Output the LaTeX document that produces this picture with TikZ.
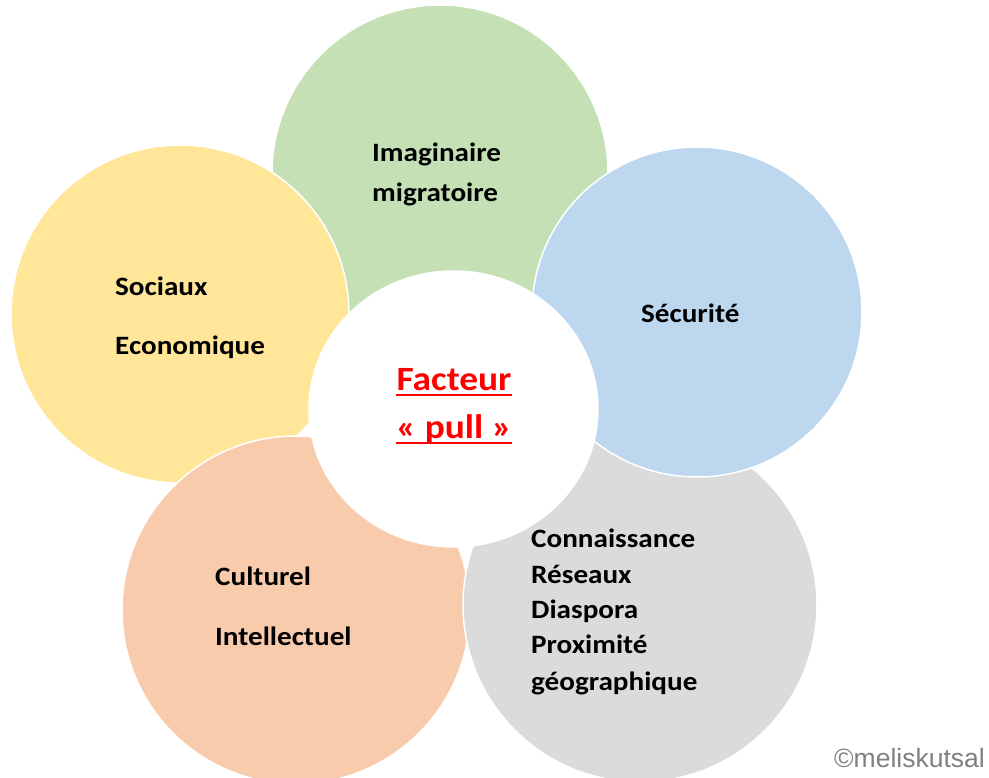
\documentclass[tikz,border=0pt]{standalone}
\usepackage{fontspec}
\setmainfont{Carlito}[FakeStretch=1.1]
\newfontfamily\credfont{Liberation Sans}
\definecolor{cgreen}{HTML}{C5E0B4}
\definecolor{cblue}{HTML}{BDD7EE}
\definecolor{cyellow}{HTML}{FFE699}
\definecolor{cpeach}{HTML}{F8CBAD}
\definecolor{cgray}{HTML}{DBDBDB}
\definecolor{cred}{HTML}{FF0000}
\tikzset{
  petal/.style={draw=white, line width=1.5pt},
  lbl/.style={anchor=base west, inner sep=0pt, font=\fontsize{26.5}{30}\selectfont\bfseries, text=black},
  ctr/.style={anchor=base, inner sep=0pt, font=\fontsize{34}{40}\selectfont\bfseries, text=cred},
  uline/.style={draw=cred, line width=2pt},
}
\begin{document}
\begin{tikzpicture}[x=1pt,y=-1pt]
\useasboundingbox (0,0) rectangle (989,778);
\fill[white] (0,0) rectangle (989,778);
\begin{scope}
\clip (0,0) rectangle (989,778);
\path[petal, fill=cgreen] (440,173) circle[radius=168];
\path[petal, fill=cyellow] (180,314) circle[radius=169];
\path[petal, fill=cpeach] (296,610) circle[radius=174];
\path[petal, fill=cgray] (640,605) circle[radius=177];
\path[petal, fill=cblue] (697,312) circle[radius=165];
\path[petal, fill=white] (453.5,409) ellipse[x radius=144.5, y radius=138];
\end{scope}
% green
\node[lbl] (g1) at (372,162) {Imaginaire};
\node[lbl] (g2) at (372,202) {migratoire};
% yellow
\node[lbl] (y1) at (115,296) {Sociaux};
\node[lbl] (y2) at (115,355) {Economique};
% blue
\node[lbl] (b1) at (641,323) {Sécurité};
% peach
\node[lbl] (p1) at (215,585) {Culturel};
\node[lbl] (p2) at (215,645) {Intellectuel};
% gray
\node[lbl] (k1) at (531,547) {Connaissance};
\node[lbl] (k2) at (531,583) {Réseaux};
\node[lbl] (k3) at (531,618) {Diaspora};
\node[lbl] (k4) at (531,653) {Proximité};
\node[lbl] (k5) at (531,690) {géographique};
% centre
\node[ctr] (c1) at (454,390) {Facteur};
\node[ctr] (c2) at (454,438) {« pull »};
\draw[uline] ([yshift=-5pt]c1.base west) -- ([yshift=-5pt]c1.base east);
\draw[uline] ([yshift=-5pt]c2.base west) -- ([yshift=-5pt]c2.base east);
% credit
\node[anchor=base east, inner sep=0pt, text=black!50, font=\credfont\fontsize{26.5}{30}\selectfont] (cr) at (985,767) {©meliskutsal};
\end{tikzpicture}
\end{document}
